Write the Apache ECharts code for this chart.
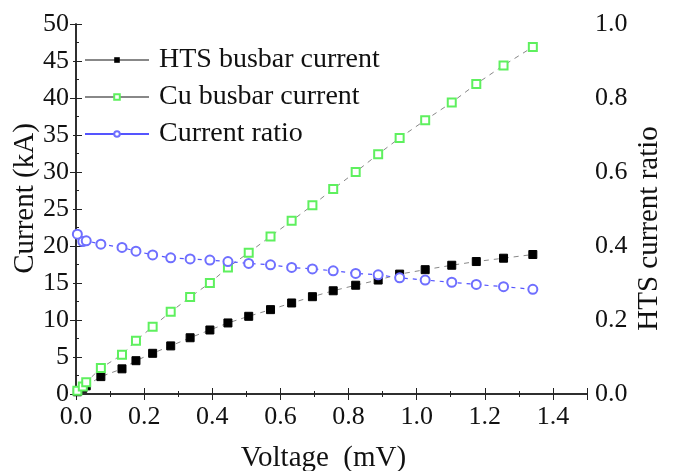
<!DOCTYPE html>
<html>
<head>
<meta charset="utf-8">
<script src="https://cdn.jsdelivr.net/npm/echarts@6/dist/echarts.min.js"></script>
<style>
  html, body { margin: 0; padding: 0; background: #fff; }
  #chart { width: 674px; height: 471px; }
</style>
</head>
<body>
<div id="chart"></div>
<script>
// voltage points (mV), shared by all three series
const voltage = [0.004, 0.02, 0.03, 0.073, 0.135, 0.176, 0.225, 0.278, 0.335, 0.393, 0.446, 0.507,
                 0.571, 0.633, 0.694, 0.755, 0.821, 0.887, 0.950, 1.025, 1.103, 1.175, 1.255, 1.341];
const htsCurrent = [0.3, 0.77, 1.1, 2.35, 3.4, 4.5, 5.5, 6.5, 7.6, 8.65, 9.6, 10.5,
                    11.4, 12.3, 13.15, 13.95, 14.7, 15.4, 16.2, 16.8, 17.4, 17.9, 18.35, 18.85];
const cuCurrent = [0.45, 1.0, 1.6, 3.5, 5.3, 7.2, 9.1, 11.1, 13.1, 15.0, 17.1, 19.1,
                   21.3, 23.4, 25.5, 27.7, 30.0, 32.4, 34.6, 37.0, 39.4, 41.9, 44.4, 46.9];
const currentRatio = [0.432, 0.412, 0.414, 0.405, 0.396, 0.386, 0.376, 0.368, 0.365, 0.362, 0.358, 0.353,
                      0.349, 0.342, 0.338, 0.333, 0.326, 0.322, 0.314, 0.308, 0.302, 0.296, 0.29, 0.283];
const seriesNames = ['HTS busbar current', 'Cu busbar current', 'Current ratio'];

const FONT = 'Liberation Serif';

function pairs(ys) {
    return voltage.map(function (v, i) { return [v, ys[i]]; });
}

const axisLine = { show: true, lineStyle: { color: '#222', width: 1.5 } };
const tick = { inside: true, length: 6, lineStyle: { color: '#222' } };
const minor = { show: true, splitNumber: 2, length: 3, lineStyle: { color: '#222' } };

const chart = echarts.init(document.getElementById('chart'), null, { renderer: 'canvas' });
const option = {
    backgroundColor: '#ffffff',
    animation: false,
    grid: { left: 76, right: 87, top: 24, bottom: 77, containLabel: false, outerBoundsMode: 'none' },
    legend: {
        orient: 'vertical',
        left: 79,
        top: 40,
        itemWidth: 64,
        itemHeight: 7,
        itemGap: 7,
        data: seriesNames,
        textStyle: { fontFamily: FONT, fontSize: 28, color: '#111', lineHeight: 30, padding: [0, 0, 0, 5] },
        lineStyle: { type: 'solid' }
    },
    xAxis: [
        {
            type: 'value',
            position: 'bottom',
            min: 0,
            max: 1.5,
            interval: 0.2,
            name: 'Voltage  (mV)',
            nameLocation: 'middle',
            nameGap: 50,
            nameMoveOverlap: false,
            nameTextStyle: { fontFamily: FONT, fontSize: 29, color: '#111', padding: [0, 16, 0, 0] },
            axisLine: axisLine,
            axisTick: tick,
            minorTick: minor,
            splitLine: { show: false },
            axisLabel: {
                fontFamily: FONT, fontSize: 26, color: '#111', margin: 10,
                showMaxLabel: false,
                formatter: function (v) { return v.toFixed(1); }
            }
        },
        {
            type: 'value',
            position: 'top',
            min: 0,
            max: 1.5,
            interval: 0.2,
            axisLine: axisLine,
            axisTick: tick,
            minorTick: minor,
            splitLine: { show: false },
            axisLabel: { show: false }
        }
    ],
    yAxis: [
        {
            type: 'value',
            position: 'left',
            min: 0,
            max: 50,
            interval: 5,
            name: 'Current (kA)',
            nameLocation: 'middle',
            nameGap: 36,
            nameMoveOverlap: false,
            nameTextStyle: { fontFamily: FONT, fontSize: 29, color: '#111', padding: [0, 0, 0, 21] },
            axisLine: axisLine,
            axisTick: tick,
            minorTick: minor,
            splitLine: { show: false },
            axisLabel: { fontFamily: FONT, fontSize: 26, color: '#111', margin: 7 }
        },
        {
            type: 'value',
            position: 'right',
            min: 0,
            max: 1,
            interval: 0.2,
            name: 'HTS current ratio',
            nameLocation: 'middle',
            nameGap: 48,
            nameRotate: 90,
            nameMoveOverlap: false,
            nameTextStyle: { fontFamily: FONT, fontSize: 29, color: '#111', padding: [0, 39, 0, 0] },
            axisLine: axisLine,
            axisTick: tick,
            minorTick: minor,
            splitLine: { show: false },
            axisLabel: {
                fontFamily: FONT, fontSize: 26, color: '#111', margin: 8,
                formatter: function (v) { return v.toFixed(1); }
            }
        }
    ],
    series: [
        {
            name: seriesNames[0],
            type: 'line',
            yAxisIndex: 0,
            data: pairs(htsCurrent),
            symbol: 'rect',
            symbolSize: 8,
            itemStyle: { color: '#000', borderColor: '#000' },
            lineStyle: { color: '#888', width: 1, type: [5, 5] },
            z: 3
        },
        {
            name: seriesNames[1],
            type: 'line',
            yAxisIndex: 0,
            data: pairs(cuCurrent),
            symbol: 'emptyRect',
            symbolSize: 8,
            itemStyle: { color: '#5ef05e', borderColor: '#5ef05e', borderWidth: 1.2 },
            lineStyle: { color: '#888', width: 1, type: [5, 5] },
            z: 3
        },
        {
            name: seriesNames[2],
            type: 'line',
            yAxisIndex: 1,
            data: pairs(currentRatio),
            symbol: 'emptyCircle',
            symbolSize: 9,
            itemStyle: { color: '#6f6fff', borderColor: '#6f6fff', borderWidth: 1.2 },
            lineStyle: { color: '#5555ff', width: 1.2, type: [4, 5] },
            z: 3
        }
    ]
};
chart.setOption(option);
</script>
</body>
</html>
